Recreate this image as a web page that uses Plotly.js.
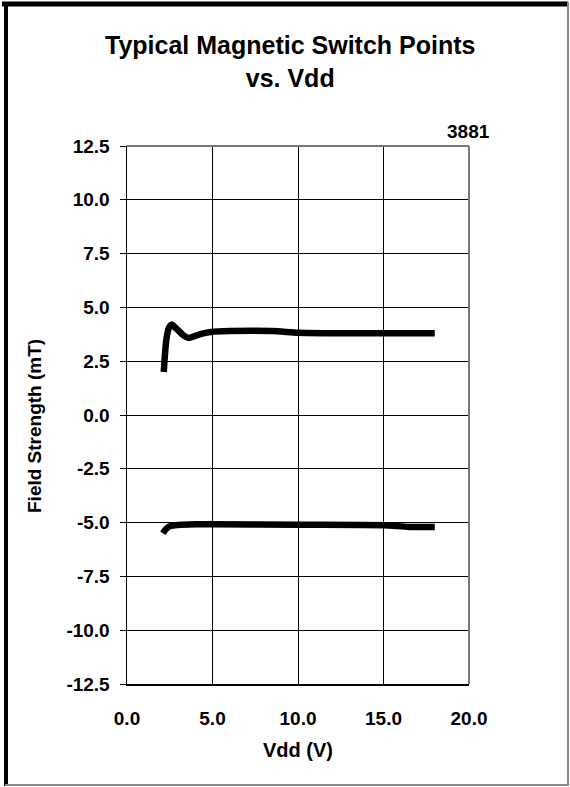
<!DOCTYPE html>
<html>
<head>
<meta charset="utf-8">
<script src="https://cdn.plot.ly/plotly-3.0.1.min.js"></script>
<style>html,body{margin:0;padding:0;background:#fff;}#chart{width:570px;height:787px;}</style>
</head>
<body>
<div id="chart"></div>
<script>
// Upper curve: operate point (mT) vs Vdd (V)
const upperVdd = [2.15, 2.2, 2.3, 2.45, 2.6, 2.9, 3.3, 3.6, 4.0, 4.4, 4.9, 6.0, 8.5, 10.0, 12.0, 15.0, 18.0];
const upperField = [2.0, 2.6, 3.5, 4.05, 4.2, 4.0, 3.7, 3.58, 3.68, 3.78, 3.86, 3.9, 3.9, 3.82, 3.8, 3.8, 3.8];
// Lower curve: release point (mT) vs Vdd (V)
const lowerVdd = [2.1, 2.2, 2.35, 2.55, 2.8, 3.2, 4.0, 5.0, 10.0, 15.0, 16.5, 18.0];
const lowerField = [-5.5, -5.38, -5.25, -5.16, -5.12, -5.1, -5.08, -5.08, -5.1, -5.12, -5.2, -5.2];
const xTicks = [0, 5, 10, 15, 20];
const xTickText = ["0.0", "5.0", "10.0", "15.0", "20.0"];
const yTicks = [-12.5, -10, -7.5, -5, -2.5, 0, 2.5, 5, 7.5, 10, 12.5];
const yTickText = ["-12.5", "-10.0", "-7.5", "-5.0", "-2.5", "0.0", "2.5", "5.0", "7.5", "10.0", "12.5"];
const titleLines = ["Typical Magnetic Switch Points", "vs. Vdd"];

const FONT = "Arial, 'Liberation Sans', sans-serif";
const W = 570, H = 787, L = 127, R = 101, T = 146, B = 103;
const pw = W - L - R, ph = H - T - B;
const px = v => (v - L) / pw;          // pixel -> paper x
const py = v => (H - B - v) / ph;      // pixel -> paper y

const traces = [
  {x: upperVdd, y: upperField, mode: 'lines', line: {color: '#000', width: 6.5, shape: 'spline', smoothing: 0.6}, hoverinfo: 'skip'},
  {x: lowerVdd, y: lowerField, mode: 'lines', line: {color: '#000', width: 6.5, shape: 'spline', smoothing: 0.6}, hoverinfo: 'skip'}
];

const layout = {
  width: W, height: H,
  margin: {l: L, r: R, t: T, b: B, pad: 0},
  paper_bgcolor: '#fff', plot_bgcolor: '#fff',
  showlegend: false,
  font: {family: FONT, color: '#000'},
  xaxis: {
    range: [0, 20], tickvals: xTicks, ticktext: xTickText,
    showgrid: true, gridcolor: '#000', gridwidth: 1,
    showline: true, linecolor: '#000', linewidth: 1.5, mirror: false,
    ticks: '', zeroline: false,
    tickfont: {size: 19, family: FONT, color: '#000', weight: 'bold'},
    ticklabelstandoff: 17,
    title: {text: '<b>Vdd (V)</b>', font: {size: 20, family: FONT, color: '#000'}, standoff: 14}
  },
  yaxis: {
    range: [-12.5, 12.5], tickvals: yTicks, ticktext: yTickText,
    showgrid: true, gridcolor: '#000', gridwidth: 1,
    showline: true, linecolor: '#000', linewidth: 1.5,
    ticks: 'outside', ticklen: 6, tickcolor: '#000', tickwidth: 1,
    zeroline: false,
    tickfont: {size: 19, family: FONT, color: '#000', weight: 'bold'},
    ticklabelstandoff: 6
  },
  shapes: [
    // plot frame top/right (gray)
    {type: 'line', xref: 'paper', yref: 'paper', x0: 0, x1: 1, y0: 1, y1: 1, line: {color: '#777', width: 2}},
    {type: 'line', xref: 'paper', yref: 'paper', x0: 1, x1: 1, y0: 0, y1: 1, line: {color: '#777', width: 2}},
    // outer border of figure
    {type: 'line', xref: 'paper', yref: 'paper', x0: px(2), x1: px(568), y0: py(4), y1: py(4), line: {color: '#000', width: 5}},
    {type: 'line', xref: 'paper', yref: 'paper', x0: px(6), x1: px(6), y0: py(2), y1: py(786), line: {color: '#000', width: 4}},
    {type: 'line', xref: 'paper', yref: 'paper', x0: px(568), x1: px(568), y0: py(2), y1: py(786), line: {color: '#888', width: 2}},
    {type: 'line', xref: 'paper', yref: 'paper', x0: px(5), x1: px(568), y0: py(785), y1: py(785), line: {color: '#888', width: 2}}
  ],
  annotations: [
    {text: '<b>' + titleLines.join('<br>') + '</b>', xref: 'paper', yref: 'paper', x: px(290), y: py(61), xanchor: 'center', yanchor: 'middle',
     showarrow: false, font: {size: 25, family: FONT, color: '#000'}},
    {text: '<b>Field Strength (mT)</b>', xref: 'paper', yref: 'paper', x: px(34), y: py(426), xanchor: 'center', yanchor: 'middle',
     textangle: -90, showarrow: false, font: {size: 19, family: FONT, color: '#000'}},
    {text: '<b>3881</b>', xref: 'paper', yref: 'paper', x: px(492), y: py(131), xanchor: 'right', yanchor: 'middle',
     showarrow: false, font: {size: 19, family: FONT, color: '#000'}}
  ]
};

Plotly.newPlot('chart', traces, layout, {staticPlot: true, displayModeBar: false});
</script>
</body>
</html>
